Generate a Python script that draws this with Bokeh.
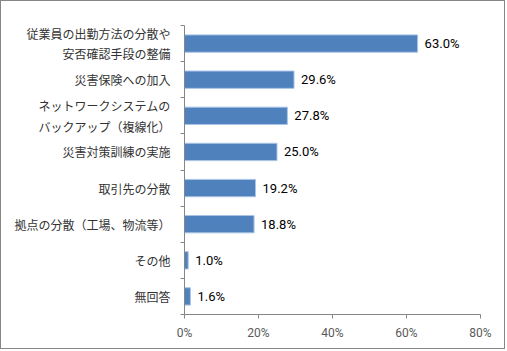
from bokeh.plotting import figure
from bokeh.models import FixedTicker, ColumnDataSource, LabelSet, Range1d
from bokeh.core.properties import value
from bokeh.embed import file_html
from bokeh.resources import INLINE

categories = ["従業員の出勤方法の分散や\n安否確認手段の整備", "災害保険への加入", "ネットワークシステムの\nバックアップ（複線化）",
              "災害対策訓練の実施", "取引先の分散", "拠点の分散（工場、物流等）", "その他", "無回答"]
values = [63.0, 29.6, 27.8, 25.0, 19.2, 18.8, 1.0, 1.6]
x_ticks = [0, 20, 40, 60, 80]
x_tick_labels = ["0%", "20%", "40%", "60%", "80%"]

n = len(categories)
ypos = [n - i - 0.5 for i in range(n)]
labels = [f"{v:.1f}%" for v in values]

src = ColumnDataSource(dict(y=ypos, v=values, lab=labels))

num_font = "Roboto"

p = figure(width=505, height=349, output_backend="svg", toolbar_location=None,
           x_range=Range1d(0, 80), y_range=Range1d(0, n),
           min_border_left=183, min_border_right=26, min_border_top=24, min_border_bottom=36)
p.styles = {"border": "1px solid #868686"}
p.outline_line_color = None
p.grid.visible = False

p.hbar(y="y", right="v", left=0, height=0.48, source=src, fill_color="#4F81BD", line_color="#A9C4E6", line_width=1)

p.add_layout(LabelSet(x="v", y="y", text="lab", source=src, x_offset=7, text_baseline="middle",
                      text_font_size=value("13px"), text_color=value("#000000"), text_font=value(num_font)))

# x axis
xa = p.xaxis[0]
xa.ticker = FixedTicker(ticks=x_ticks)
xa.major_label_overrides = {t: l for t, l in zip(x_ticks, x_tick_labels)}
xa.major_tick_out = 4
xa.major_tick_in = 0
xa.minor_tick_out = 0
xa.minor_tick_in = 0
xa.axis_line_color = "#868686"
xa.major_tick_line_color = "#868686"
xa.major_label_text_font_size = "12px"
xa.major_label_text_color = "#595959"
xa.major_label_text_font = num_font
xa.major_label_standoff = 7

# y axis
ya = p.yaxis[0]
ya.ticker = FixedTicker(ticks=ypos, minor_ticks=list(range(0, n + 1)))
ya.major_label_overrides = {y: c for y, c in zip(ypos, categories)}
ya.major_tick_out = 0
ya.major_tick_in = 0
ya.minor_tick_out = 4
ya.minor_tick_in = 0
ya.minor_tick_line_color = "#868686"
ya.axis_line_color = "#868686"
ya.major_label_text_font_size = "12px"
ya.major_label_text_color = "#333333"
ya.major_label_text_font = "Noto Sans CJK JP"
ya.major_label_standoff = 10

open("out.html", "w").write(file_html(p, INLINE))
